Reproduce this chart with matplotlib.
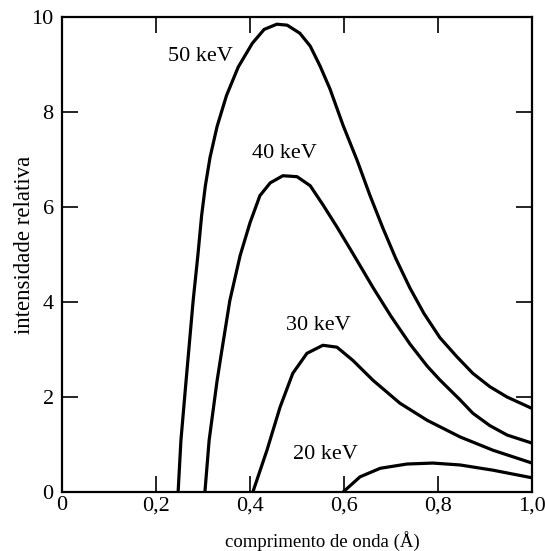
import matplotlib
matplotlib.use("Agg")
import matplotlib.pyplot as plt

plt.rcParams["font.family"] = ["Liberation Serif", "DejaVu Serif"]

# wavelength (Angstrom) and relative intensity
x50 = [0.247, 0.253, 0.264, 0.279, 0.289, 0.297, 0.305, 0.315, 0.330, 0.350, 0.375,
       0.405, 0.430, 0.457, 0.479, 0.506, 0.528, 0.549, 0.570, 0.598, 0.628, 0.655,
       0.683, 0.710, 0.740, 0.770, 0.804, 0.840, 0.874, 0.910, 0.947, 1.0]
y50 = [0.0, 1.09, 2.35, 4.03, 4.98, 5.82, 6.45, 7.05, 7.70, 8.35, 8.95,
       9.45, 9.74, 9.85, 9.83, 9.66, 9.39, 8.97, 8.49, 7.72, 6.98, 6.25,
       5.55, 4.92, 4.30, 3.76, 3.25, 2.85, 2.50, 2.22, 2.00, 1.76]

x40 = [0.304, 0.313, 0.33, 0.34, 0.357, 0.379, 0.40, 0.421, 0.443, 0.470, 0.500,
       0.528, 0.555, 0.585, 0.619, 0.662, 0.700, 0.740, 0.777, 0.804, 0.847, 0.874,
       0.910, 0.947, 1.0]
y40 = [0.0, 1.09, 2.35, 2.98, 4.03, 4.98, 5.67, 6.24, 6.51, 6.66, 6.64,
       6.45, 6.05, 5.58, 5.02, 4.30, 3.70, 3.12, 2.65, 2.36, 1.94, 1.66,
       1.40, 1.20, 1.03]

x30 = [0.406, 0.436, 0.464, 0.491, 0.521, 0.555, 0.585, 0.619, 0.662, 0.719, 0.777,
       0.847, 0.917, 1.0]
y30 = [0.0, 0.88, 1.79, 2.50, 2.92, 3.09, 3.05, 2.77, 2.35, 1.87, 1.51,
       1.16, 0.88, 0.61]

x20 = [0.598, 0.634, 0.677, 0.734, 0.789, 0.847, 0.917, 1.0]
y20 = [0.0, 0.32, 0.50, 0.59, 0.61, 0.57, 0.46, 0.30]

series = [(x50, y50, "50 keV", 0.294, 9.16),
          (x40, y40, "40 keV", 0.474, 7.12),
          (x30, y30, "30 keV", 0.545, 3.51),
          (x20, y20, "20 keV", 0.560, 0.80)]

xticks = [0, 0.2, 0.4, 0.6, 0.8, 1.0]
xticklabels = ["0", "0,2", "0,4", "0,6", "0,8", "1,0"]
yticks = [0, 2, 4, 6, 8, 10]

fig = plt.figure(figsize=(5.45, 5.51), dpi=100)
ax = fig.add_axes([0.1138, 0.107, 0.8624, 0.862])

for xs, ys, label, lx, ly in series:
    ax.plot(xs, ys, color="black", lw=2.3, solid_capstyle="round",
            solid_joinstyle="round")
    ax.text(lx, ly, label, fontsize=16, ha="center", va="center")

ax.set_xlim(0, 1.0)
ax.set_ylim(0, 10)
ax.set_xticks(xticks)
ax.set_xticklabels(xticklabels)
ax.set_yticks(yticks)
ax.tick_params(direction="in", top=True, right=True, length=11.5, width=1.2,
               labelsize=16, color="black")
ax.tick_params(axis="x", pad=3)
ax.tick_params(axis="y", pad=6)
for s in ax.spines.values():
    s.set_linewidth(1.6)

ax.set_xlabel("comprimento de onda (Å)", fontsize=13.5)
ax.set_ylabel("intensidade relativa", fontsize=16.5)
ax.xaxis.set_label_coords(0.553, -0.082)
ax.yaxis.set_label_coords(-0.057, 0.52)

fig.savefig("out.png", dpi=100)
